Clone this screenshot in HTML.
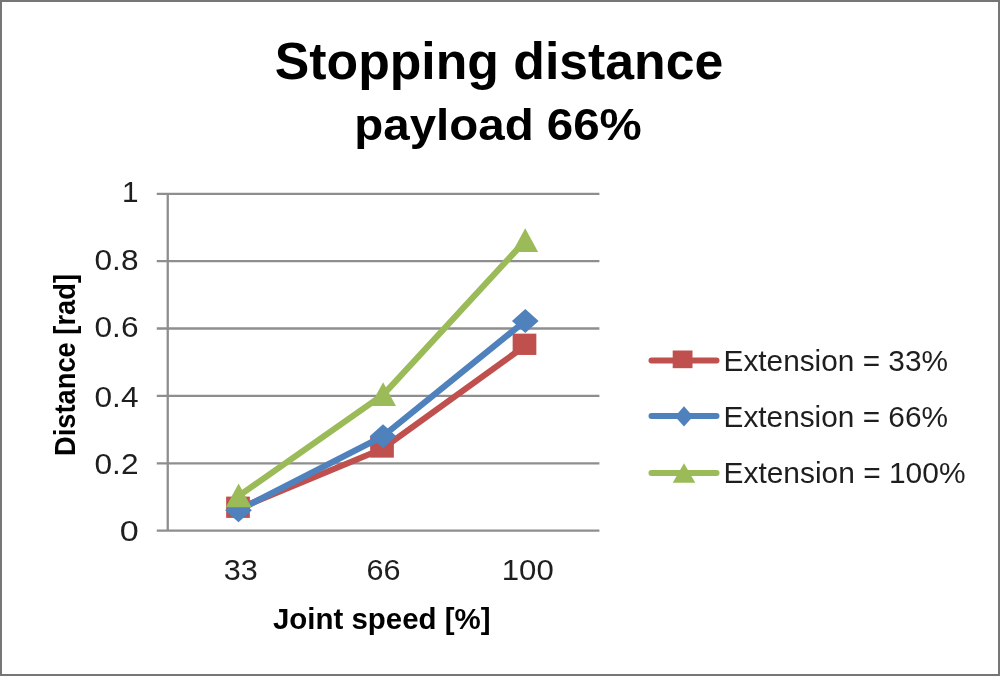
<!DOCTYPE html>
<html>
<head>
<meta charset="utf-8">
<style>
html,body{margin:0;padding:0;background:#fff;}
body{width:1000px;height:676px;overflow:hidden;position:relative;}
svg{position:absolute;left:0;top:0;display:block;will-change:transform;}
text{font-family:"Liberation Sans", sans-serif;fill:#1e1e1e;}
.b{fill:#000;}
.b{font-weight:bold;}
</style>
</head>
<body>
<svg width="1000" height="676" viewBox="0 0 1000 676">
  <rect x="1" y="1" width="998" height="674" fill="#fff" stroke="#767676" stroke-width="2"/>

  <!-- title -->
  <text class="b" x="274.8" y="79" font-size="52" textLength="448.5" lengthAdjust="spacingAndGlyphs">Stopping distance</text>
  <text class="b" x="354.3" y="140" font-size="45" textLength="287.5" lengthAdjust="spacingAndGlyphs">payload 66%</text>

  <!-- gridlines -->
  <g stroke="#8e8e8e" stroke-width="2.3" fill="none">
    <line x1="156.75" y1="193.8" x2="599.4" y2="193.8"/>
    <line x1="156.75" y1="261.2" x2="599.4" y2="261.2"/>
    <line x1="156.75" y1="328.5" x2="599.4" y2="328.5"/>
    <line x1="156.75" y1="395.9" x2="599.4" y2="395.9"/>
    <line x1="156.75" y1="463.3" x2="599.4" y2="463.3"/>
    <line x1="156.75" y1="530.7" x2="599.4" y2="530.7"/>
    <line x1="167.75" y1="193.8" x2="167.75" y2="530.7"/>
  </g>

  <!-- y labels -->
  <g font-size="29.7" text-anchor="end">
    <text x="138.5" y="201.5">1</text>
    <text x="138.5" y="269.5" textLength="44" lengthAdjust="spacingAndGlyphs">0.8</text>
    <text x="138.5" y="337" textLength="44" lengthAdjust="spacingAndGlyphs">0.6</text>
    <text x="138.5" y="406.5" textLength="44" lengthAdjust="spacingAndGlyphs">0.4</text>
    <text x="138.5" y="474" textLength="44" lengthAdjust="spacingAndGlyphs">0.2</text>
    <text x="138.8" y="541" textLength="19" lengthAdjust="spacingAndGlyphs">0</text>
  </g>

  <!-- x labels -->
  <g font-size="29.7" text-anchor="middle">
    <text x="240.8" y="579.5" textLength="34" lengthAdjust="spacingAndGlyphs">33</text>
    <text x="383.6" y="579.5" textLength="34" lengthAdjust="spacingAndGlyphs">66</text>
    <text x="527.8" y="579.5" textLength="52" lengthAdjust="spacingAndGlyphs">100</text>
  </g>

  <!-- axis titles -->
  <text class="b" x="273" y="629" font-size="29.7" textLength="217.5" lengthAdjust="spacingAndGlyphs">Joint speed [%]</text>
  <text class="b" transform="translate(75,456) rotate(-90)" x="0" y="0" font-size="30" textLength="182" lengthAdjust="spacingAndGlyphs">Distance [rad]</text>

  <!-- series lines -->
  <g fill="none" stroke-width="6.2" stroke-linejoin="round" stroke-linecap="round">
    <polyline stroke="#C0504D" points="238,508.75 382,449 524.5,346.3"/>
  </g>
  <g fill="#C0504D">
    <rect x="226.15" y="496.60" width="23.7" height="21.3"/><rect x="370.15" y="436.35" width="23.7" height="21.3"/><rect x="512.65" y="333.65" width="23.7" height="21.3"/>
  </g>
  <g fill="none" stroke-width="6.2" stroke-linejoin="round" stroke-linecap="round">
    <polyline stroke="#4F81BD" points="238.5,510.3 383,436.2 525.3,320.9"/>
  </g>
  <g fill="#4F81BD">
    <polygon points="238.50,498.30 251.85,510.30 238.50,522.30 225.15,510.30"/><polygon points="383.00,424.20 396.35,436.20 383.00,448.20 369.65,436.20"/><polygon points="525.30,308.90 538.65,320.90 525.30,332.90 511.95,320.90"/>
  </g>
  <g fill="none" stroke-width="6.2" stroke-linejoin="round" stroke-linecap="round">
    <polyline stroke="#9BBB59" points="238.6,496 383.1,394.8 525.2,240.8"/>
  </g>
  <g fill="#9BBB59">
    <polygon points="238.60,483.50 251.50,507.20 225.70,507.20"/><polygon points="383.10,382.20 396.00,405.90 370.20,405.90"/><polygon points="525.20,228.20 538.10,251.90 512.30,251.90"/>
  </g>

  <!-- legend -->
  <g stroke-width="6" stroke-linecap="round">
    <line x1="651.5" y1="360.5" x2="716.5" y2="360.5" stroke="#C0504D"/>
    <line x1="651.5" y1="416" x2="716.5" y2="416" stroke="#4F81BD"/>
    <line x1="651.5" y1="473" x2="716.5" y2="473" stroke="#9BBB59"/>
  </g>
  <rect x="672.7" y="350.5" width="19.8" height="17.7" fill="#C0504D"/>
  <polygon points="684,406.3 693,416.5 684,426.6 675,416.5" fill="#4F81BD"/>
  <polygon points="684,463.2 695.3,482.7 672.7,482.7" fill="#9BBB59"/>

  <g font-size="29">
    <text x="723.5" y="371" textLength="224.5" lengthAdjust="spacingAndGlyphs">Extension = 33%</text>
    <text x="723.5" y="426.5" textLength="224.5" lengthAdjust="spacingAndGlyphs">Extension = 66%</text>
    <text x="723.5" y="483" textLength="242" lengthAdjust="spacingAndGlyphs">Extension = 100%</text>
  </g>
</svg>
</body>
</html>
